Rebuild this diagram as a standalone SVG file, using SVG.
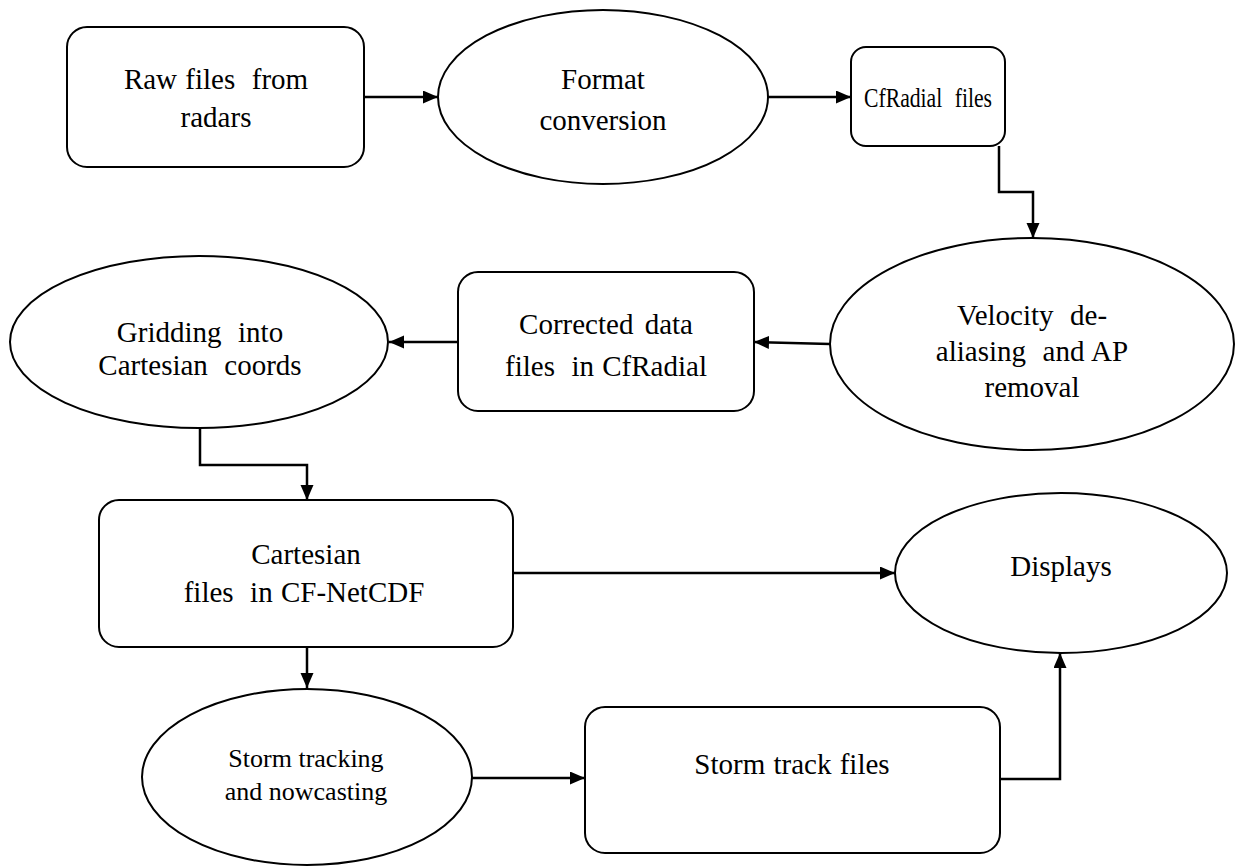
<svg xmlns="http://www.w3.org/2000/svg" width="1235" height="867" viewBox="0 0 1235 867">
<style>
.box{fill:#fff;stroke:#000;stroke-width:2}
.ell{fill:#fff;stroke:#000;stroke-width:2}
.t{font-family:"Liberation Serif","Times New Roman",serif;font-size:29px;fill:#000;text-anchor:middle;word-spacing:1px}
.ts{font-family:"Liberation Serif","Times New Roman",serif;font-size:26px;fill:#000;text-anchor:middle}
.c{fill:none;stroke:#000;stroke-width:2.5;marker-end:url(#ah)}
</style>
<defs>
<marker id="ah" markerUnits="userSpaceOnUse" markerWidth="16" markerHeight="14" refX="15" refY="6.5" orient="auto">
<path d="M0,0 L15,6.5 L0,13 Z" fill="#000"/>
</marker>
</defs>
<rect width="1235" height="867" fill="#fff"/>
<g id="connectors">
<path class="c" d="M364,97 H438"/>
<path class="c" d="M768,97 H851"/>
<path class="c" d="M999,146 V192 H1033 V238"/>
<path class="c" d="M830,344 L754,342"/>
<path class="c" d="M458,342 H389"/>
<path class="c" d="M200,428 V465 H307 V500"/>
<path class="c" d="M513,573 H895"/>
<path class="c" d="M307,647 V688"/>
<path class="c" d="M472,778 H585"/>
<path class="c" d="M1000,779 H1060 V653"/>
</g>
<g id="raw">
<rect class="box" x="67" y="27" width="297" height="140" rx="20"/>
<text class="t" x="216" y="89" xml:space="preserve">Raw files  from</text>
<text class="t" x="216" y="127">radars</text>
</g>
<g id="format">
<ellipse class="ell" cx="603" cy="97" rx="165" ry="87"/>
<text class="t" x="603" y="89">Format</text>
<text class="t" x="603" y="130">conversion</text>
</g>
<g id="cfradial">
<rect class="box" x="851" y="47" width="154" height="99" rx="15"/>
<text class="t" x="928" y="107" xml:space="preserve" textLength="128" lengthAdjust="spacingAndGlyphs" style="font-size:27px">CfRadial  files</text>
</g>
<g id="velocity">
<ellipse class="ell" cx="1032" cy="344" rx="202" ry="106"/>
<text class="t" x="1032" y="325" xml:space="preserve">Velocity  de-</text>
<text class="t" x="1032" y="361" xml:space="preserve">aliasing  and AP</text>
<text class="t" x="1032" y="397">removal</text>
</g>
<g id="corrected">
<rect class="box" x="458" y="272" width="296" height="139" rx="20"/>
<text class="t" x="606" y="334" style="word-spacing:4px">Corrected data</text>
<text class="t" x="606" y="376" xml:space="preserve">files  in CfRadial</text>
</g>
<g id="gridding">
<ellipse class="ell" cx="199" cy="342" rx="189" ry="86"/>
<text class="t" x="200" y="342" xml:space="preserve">Gridding  into</text>
<text class="t" x="200" y="375" xml:space="preserve">Cartesian  coords</text>
</g>
<g id="cartesian">
<rect class="box" x="99" y="500" width="414" height="147" rx="20"/>
<text class="t" x="306" y="564">Cartesian</text>
<text class="t" x="304" y="602" xml:space="preserve">files  in CF-NetCDF</text>
</g>
<g id="displays">
<ellipse class="ell" cx="1061" cy="573" rx="166" ry="80"/>
<text class="t" x="1061" y="576">Displays</text>
</g>
<g id="storm">
<ellipse class="ell" cx="307" cy="777" rx="165" ry="88"/>
<text class="ts" x="306" y="767">Storm tracking</text>
<text class="ts" x="306" y="800">and nowcasting</text>
</g>
<g id="stormfiles">
<rect class="box" x="585" y="707" width="415" height="146" rx="20"/>
<text class="t" x="792" y="774">Storm track files</text>
</g>
</svg>
